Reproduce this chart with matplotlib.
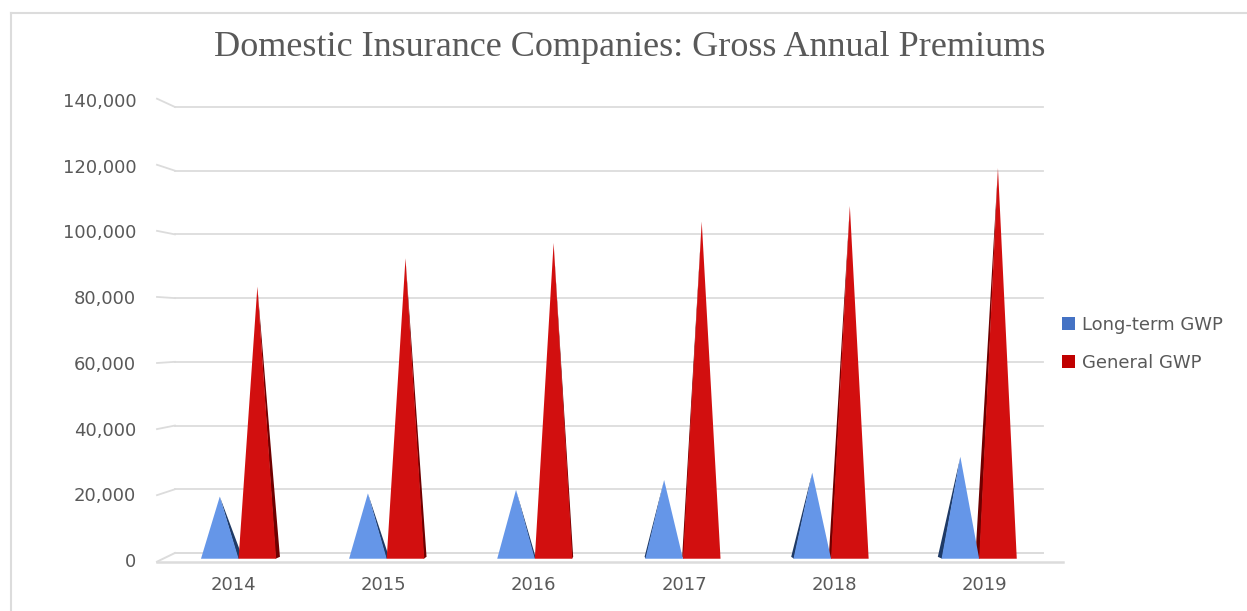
import matplotlib
matplotlib.use("Agg")
import matplotlib.pyplot as plt
from matplotlib.patches import Polygon, Patch
from matplotlib.lines import Line2D

# ---- data ----
years = ["2014", "2015", "2016", "2017", "2018", "2019"]
long_term_gwp = [17700, 18700, 19800, 22900, 25200, 30200]
general_gwp = [83600, 92500, 97300, 104000, 108900, 120800]
y_ticks = [0, 20000, 40000, 60000, 80000, 100000, 120000, 140000]
y_tick_labels = ["0", "20,000", "40,000", "60,000", "80,000", "100,000", "120,000", "140,000"]
series_names = ["Long-term GWP", "General GWP"]

# ---- style ----
TXT = "#595959"
GRID = "#DCDCDC"
BLUE_FACE, BLUE_SIDE = "#6596E8", "#1F3A66"
RED_FACE, RED_SIDE = "#D20F0F", "#6E0000"
LEG_BLUE, LEG_RED = "#4472C4", "#C00000"
PERSP = 0.037       # side-wall slant of gridlines
LABEL_PERSP = 0.031  # labels sit at the front edge of the side wall

fig = plt.figure(figsize=(12.47, 6.11), dpi=100)
fig.patch.set_facecolor("white")

W, H = 1247, 611
ax = fig.add_axes([157 / W, 0.0793, (1063 - 157) / W, 0.7613])
n = len(years)
for s in ax.spines.values():
    s.set_visible(False)

# floor
back_l, back_r = -0.386, n - 1 + 0.386
front_l, front_r = -0.505, n - 1 + 0.52
floor_front = -2730
ax.plot([front_l, front_r], [floor_front, floor_front], color=GRID, lw=1.8, zorder=1,
        clip_on=False)
ax.plot([back_l, back_r], [0, 0], color=GRID, lw=1.4, zorder=1, clip_on=False)
ax.plot([front_l, back_l], [floor_front, 0], color=GRID, lw=1.4, zorder=1, clip_on=False)

# gridlines on back wall + side wall perspective segments
for v in y_ticks[1:]:
    ax.plot([back_l, back_r], [v, v], color=GRID, lw=1.3, zorder=0.5, clip_on=False)
    ax.plot([front_l, back_l], [v + (v - 70000) * PERSP, v], color=GRID, lw=1.3,
            zorder=0.5, clip_on=False)

# pyramids
base = -1800
half = 0.125
for i in range(n):
    c = 2.5 + (i - 2.5) * 0.985
    d = 0.010 * (2.5 - i)
    for cx, val, face, side in [(c - half, long_term_gwp[i], BLUE_FACE, BLUE_SIDE),
                                (c + half, general_gwp[i], RED_FACE, RED_SIDE)]:
        l, r = cx - half, cx + half
        if d > 0:
            sp = [(r - 0.004, base), (r + d, base + 600), (cx, val)]
        else:
            sp = [(l + 0.004, base), (l + d, base + 600), (cx, val)]
        ax.add_patch(Polygon(sp, closed=True, facecolor=side, edgecolor="none", zorder=2))
        ax.add_patch(Polygon([(l, base), (r, base), (cx, val)], closed=True,
                             facecolor=face, edgecolor="none", zorder=3))

ax.set_yticks([v + (v - 70000) * LABEL_PERSP for v in y_ticks])
ax.set_yticklabels(y_tick_labels)
ax.set_xticks(range(n))
ax.set_xticklabels(years)
ax.set_xlim(-0.505, n - 1 + 0.52)
ax.set_ylim(-3000, 143000)
ax.tick_params(axis="y", length=0, pad=15, labelsize=13, labelcolor=TXT)
ax.tick_params(axis="x", length=0, pad=10, labelsize=13, labelcolor=TXT)
ax.grid(False)

# title
fig.text(630 / W, 1 - 48 / H, "Domestic Insurance Companies: Gross Annual Premiums",
         ha="center", va="center", fontsize=26, color=TXT, family="Liberation Serif")

# legend
handles = [Patch(facecolor=LEG_BLUE, edgecolor="none"), Patch(facecolor=LEG_RED, edgecolor="none")]
leg = fig.legend(handles, series_names, loc="center left",
                 bbox_to_anchor=(1046 / W, 1 - 344 / H), frameon=False,
                 handlelength=0.7, handleheight=0.7, handletextpad=0.4,
                 labelspacing=1.1, fontsize=13, labelcolor=TXT)

# chart border (top and left)
fig.add_artist(Line2D([11 / W, 1.0], [1 - 13 / H, 1 - 13 / H], color=GRID, lw=1.5))
fig.add_artist(Line2D([11 / W, 11 / W], [0, 1 - 13 / H], color=GRID, lw=1.5))

fig.savefig("out.png", dpi=100, facecolor="white")
